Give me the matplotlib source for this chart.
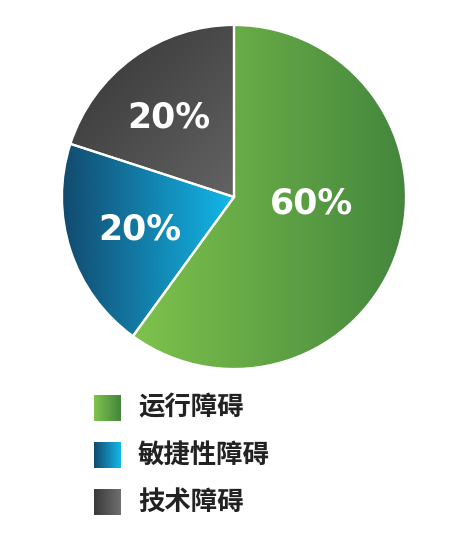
import numpy as np
import matplotlib.pyplot as plt

plt.rcParams['font.family'] = ['Noto Sans CJK SC', 'DejaVu Sans']

categories = ['运行障碍', '敏捷性障碍', '技术障碍']
shares = [60, 20, 20]
labels = ['60%', '20%', '20%']
# gradient start/end colours per slice
grad_from = ['#7fc34d', '#124a6e', '#3a3a3a']
grad_to = ['#44863d', '#12b8ea', '#6f6f6f']

W, H = 460, 540
fig = plt.figure(figsize=(W / 100, H / 100), dpi=100)

cx, cy, r = 234, 197, 172
ax = fig.add_axes([(cx - r) / W, 1 - (cy + r) / H, 2 * r / W, 2 * r / H])
ax.axis('off')

wedges, _ = ax.pie(shares, startangle=90, counterclock=False, radius=1,
                   colors=['none'] * 3,
                   wedgeprops=dict(edgecolor='white', linewidth=1.6))


def ramp(c0, c1, t):
    a = np.array(plt.matplotlib.colors.to_rgb(c0))
    b = np.array(plt.matplotlib.colors.to_rgb(c1))
    t = np.clip(t, 0, 1)[..., None]
    return a * (1 - t) + b * t


xx, yy = np.meshgrid(np.linspace(-1, 1, 400), np.linspace(1, -1, 400))
# green: left->right, blue: left->right, gray: top-left -> bottom-right
ts = [(xx + 0.6) / 1.6, (xx + 1.0) / 1.0, ((xx + 0.8) - (yy - 0.9)) / 2.2]
for w, t, c0, c1 in zip(wedges, ts, grad_from, grad_to):
    im = ax.imshow(ramp(c0, c1, t), extent=[-1, 1, -1, 1], zorder=1)
    im.set_clip_path(w)
    w.set_zorder(2)

label_pos = [(0.45, -0.04), (-0.55, -0.19), (-0.38, 0.46)]
for txt, (lx, ly) in zip(labels, label_pos):
    ax.text(lx, ly, txt, ha='center', va='center', color='white',
            fontsize=25, fontweight='bold', family='DejaVu Sans', zorder=3)

ax.set_xlim(-1, 1)
ax.set_ylim(-1, 1)
ax.set_aspect('equal')

# legend
rows = [408, 455, 502]
for name, c0, c1, yc in zip(categories, grad_from, grad_to, rows):
    sq = fig.add_axes([94 / W, 1 - (yc + 13) / H, 27 / W, 26 / H])
    g = np.linspace(0, 1, 50)[None, :].repeat(10, 0)
    sq.imshow(ramp(c0, c1, g), aspect='auto')
    sq.axis('off')
    fig.text(138 / W, 1 - yc / H, name, ha='left', va='center',
             fontsize=19, fontweight='bold', color='#222222')

fig.savefig('out.png', dpi=100)
